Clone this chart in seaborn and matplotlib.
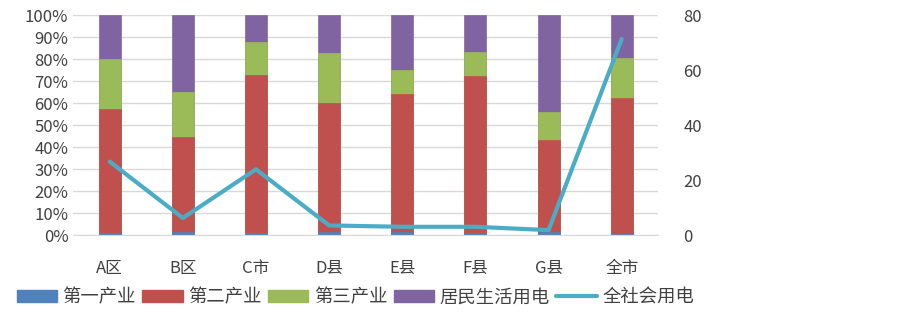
import numpy as np
import pandas as pd
import matplotlib
matplotlib.use("Agg")
import matplotlib.pyplot as plt
import seaborn as sns
from matplotlib.patches import Patch
from matplotlib.lines import Line2D
from matplotlib.ticker import PercentFormatter

# -----------------------------
# DATA (shares in %, line in right-axis units)
# -----------------------------
regions = ["A区", "B区", "C市", "D县", "E县", "F县", "G县", "全市"]
primary = [0.8, 1.5, 0.8, 1.5, 1.5, 0.8, 1.5, 0.7]
secondary = [56.5, 43.0, 71.9, 58.4, 62.7, 71.3, 41.5, 61.4]
tertiary = [22.6, 20.5, 15.0, 22.8, 10.8, 11.2, 12.8, 18.5]
residential = [20.1, 35.0, 12.3, 17.3, 25.0, 16.7, 44.2, 19.4]
total_power = [26.7, 6.2, 23.9, 3.5, 3.0, 3.0, 1.8, 71.3]

series_names = ["第一产业", "第二产业", "第三产业", "居民生活用电"]
bar_colors = ["#4f81bd", "#c0504d", "#9bbb59", "#8064a2"]
line_name = "全社会用电"
line_color = "#4bacc6"

df = pd.DataFrame({
    "region": regions,
    "第一产业": primary,
    "第二产业": secondary,
    "第三产业": tertiary,
    "居民生活用电": residential,
})
cum = df[series_names].cumsum(axis=1)

# -----------------------------
# STYLE
# -----------------------------
sns.set_style("white")
plt.rcParams["font.family"] = ["Noto Sans CJK SC", "DejaVu Sans"]
text_color = "#404040"

fig = plt.figure(figsize=(9.03, 3.13), dpi=100)
ax = fig.add_axes([0.081, 0.249, 0.648, 0.703])

# stacked bars: draw cumulative totals, tallest first
for name, color in reversed(list(zip(series_names, bar_colors))):
    sns.barplot(x=df["region"], y=cum[name], color=color, saturation=1,
                width=0.3, ax=ax, edgecolor=color, linewidth=0.5, zorder=2)

ax.set_ylim(0, 100)
ax.set_xlim(-0.5, len(regions) - 0.5)
ax.set_yticks(np.arange(0, 101, 10))
ax.yaxis.set_major_formatter(PercentFormatter(decimals=0))
ax.grid(axis="y", color="#d9d9d9", linewidth=1, zorder=0)
ax.set_axisbelow(True)
ax.set_xlabel("")
ax.set_ylabel("")
for s in ["top", "right", "left"]:
    ax.spines[s].set_visible(False)
ax.spines["bottom"].set_color("#d9d9d9")
ax.tick_params(axis="both", length=0, labelsize=12, colors=text_color)
ax.tick_params(axis="x", pad=18)

# line on right axis
ax2 = ax.twinx()
sns.lineplot(x=np.arange(len(regions)), y=total_power, color=line_color,
             linewidth=3, ax=ax2, zorder=3)
ax2.set_ylim(0, 80)
ax2.set_yticks(np.arange(0, 81, 20))
ax2.set_ylabel("")
for s in ax2.spines.values():
    s.set_visible(False)
ax2.tick_params(axis="y", length=0, labelsize=12, colors=text_color, pad=18)

# legend
handles = [Patch(facecolor=c, edgecolor=c) for c in bar_colors]
handles.append(Line2D([0], [0], color=line_color, linewidth=3))
fig.legend(handles, series_names + [line_name], loc="center left",
           bbox_to_anchor=(0.0, 0.05), ncol=5, frameon=False,
           fontsize=13.2, labelcolor=text_color, handlelength=2.2,
           handleheight=0.7, handletextpad=0.3, columnspacing=0.35)

fig.savefig("out.png", dpi=100)
